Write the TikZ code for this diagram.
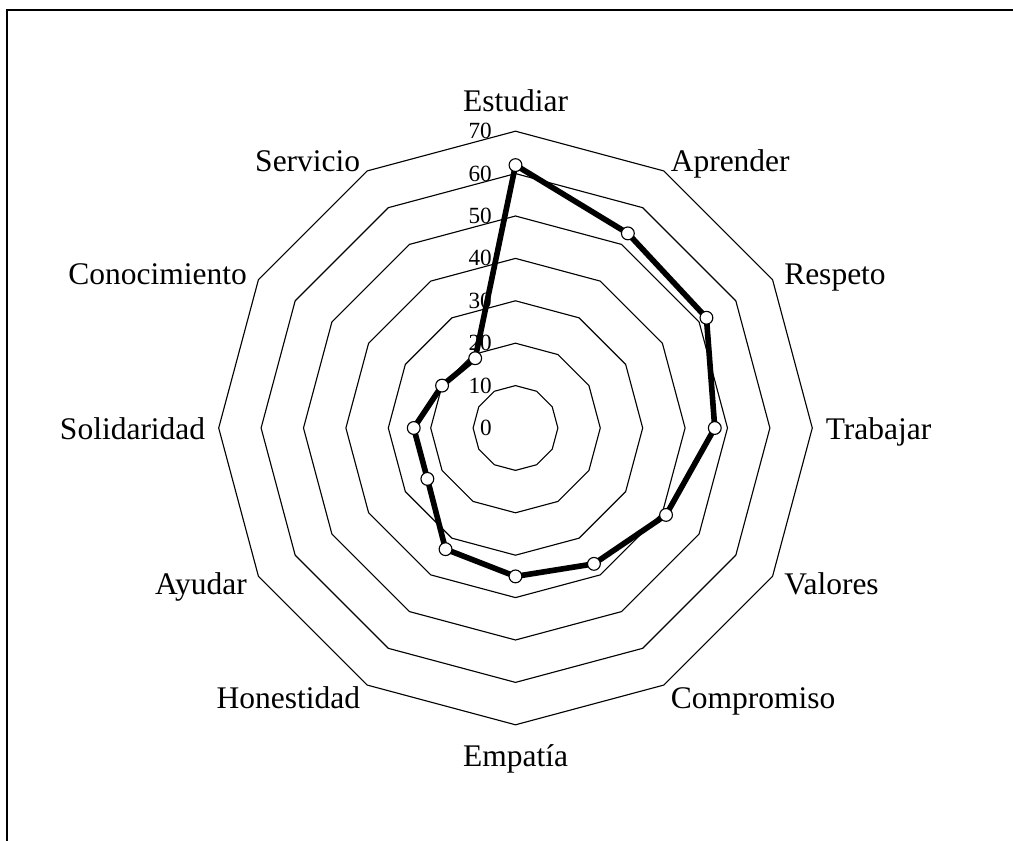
\documentclass[tikz,border=0pt]{standalone}
\usepackage{fontspec}
\setmainfont{Liberation Serif}
\tikzset{>=latex}
\tikzset{
  ring/.style={line width=0.8pt},
  dataline/.style={line width=4pt,line join=round},
  marker/.style={circle,draw,fill=white,line width=0.8pt,inner sep=0,minimum size=0.32cm},
  catlabel/.style={inner sep=0,text height=0.75em,text depth=0.25em,font=\fontsize{22.4}{26}\selectfont},
  ticklabel/.style={inner sep=0,anchor=east,font=\fontsize{16.5}{19}\selectfont}
}
\newcommand\ringstep{4.24}

\begin{document}
\begin{tikzpicture}[x=0.025cm,y=0.025cm]
    \useasboundingbox (-515.5,-413) rectangle (497.5,428);
    \draw[line width=1.4pt] (-508.5,-413) -- (-508.5,418) -- (497.5,418);
    % rings
    \foreach\r in {10,20,...,70}{
     \draw[ring] (90:\r*\ringstep) \foreach\k in {1,...,11}{ -- ({90-30*\k}:\r*\ringstep)} -- cycle;}
    \foreach\v in {0,10,...,70}{
     \node[ticklabel] (t\v) at (-23.5,\v*\ringstep) {\v};}
    % categories
    \foreach\ang/\txt/\anc/\dy [count=\i] in {90/Estudiar/south/2,60/Aprender/west/-5.7,30/Respeto/west/-5.7,
      0/Trabajar/west/-5.7,-30/Valores/west/-5.7,-60/Compromiso/west/-5.7,-90/Empatía/north/-12.8,
      -120/Honestidad/east/-5.7,-150/Ayudar/east/-5.7,180/Solidaridad/east/-5.7,150/Conocimiento/east/-5.7,120/Servicio/east/-5.7}{
     \node[catlabel,anchor=\anc,yshift=\dy pt] (c\i) at (\ang:310) {\txt};}
    % data
    \foreach\v [count=\i] in {62,53,52,47,41,37,35,33,24,24,20,19}{
     \coordinate (d\i) at ({90-30*(\i-1)}:\v*\ringstep);}
    \draw[dataline] (d1) -- (d2) -- (d3) -- (d4) -- (d5) -- (d6) -- (d7) -- (d8)
      -- (d9) -- (d10) -- (d11) -- (d12) -- cycle;
    \foreach\i in {1,...,12}{
     \node[marker] (m\i) at (d\i) {};}
  \end{tikzpicture}
\end{document}
